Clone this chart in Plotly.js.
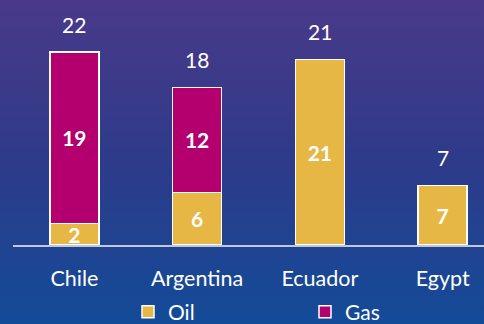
<!DOCTYPE html>
<html>
<head>
<meta charset="utf-8">
<script src="https://cdn.plot.ly/plotly-3.0.1.min.js"></script>
<style>
  html, body { margin: 0; padding: 0; }
  body { width: 484px; height: 324px; overflow: hidden;
         background: linear-gradient(to bottom, #4a3989 0%, #2d3b8a 50%, #134b98 100%); }
  #chart { width: 484px; height: 324px; }
</style>
</head>
<body>
<div id="chart"></div>
<script>
const categories = ["Chile", "Argentina", "Ecuador", "Egypt"];
const oilValues = [2.45, 5.98, 21.06, 6.74];
const gasValues = [19.48, 11.92, 0, 0];
const seriesNames = ["Oil", "Gas"];

const FONT = "Lato, 'Open Sans', sans-serif";
const totals = categories.map((c, i) => oilValues[i] + gasValues[i]);
const fmt = v => v > 0 ? String(Math.round(v)) : "";

const barCommon = {
  type: "bar",
  x: categories,
  width: 0.4,
  textposition: "inside",
  insidetextanchor: "middle",
  constraintext: "none",
  textangle: 0,
  textfont: { family: FONT, size: 21, color: "#ffffff", weight: "bold" },
  hoverinfo: "skip"
};

const traces = [
  Object.assign({}, barCommon, {
    name: seriesNames[0], y: oilValues, text: oilValues.map(fmt),
    marker: { color: "#E6B744", line: { color: "#ffffff", width: 1.5 } }
  }),
  Object.assign({}, barCommon, {
    name: seriesNames[1], y: gasValues, text: gasValues.map(fmt),
    marker: { color: "#B3006E", line: { color: "#ffffff", width: 1.5 } }
  })
];

const annotations = categories.map((c, i) => ({
  x: c, y: totals[i], xref: "x", yref: "y",
  text: fmt(totals[i]), showarrow: false,
  yanchor: "middle", yshift: 28,
  font: { family: FONT, size: 21, color: "#ffffff" }
}));

const layout = {
  width: 484, height: 324,
  margin: { l: 13, r: 0, t: 0, b: 79, pad: 0 },
  paper_bgcolor: "rgba(0,0,0,0)",
  plot_bgcolor: "rgba(0,0,0,0)",
  barmode: "stack",
  showlegend: true,
  font: { family: FONT, color: "#ffffff", size: 21 },
  xaxis: {
    range: [-0.5, 3.337],
    showline: true, linecolor: "#c3c7d6", linewidth: 1.5,
    showgrid: false, zeroline: false, ticks: "",
    ticklabelstandoff: 14,
    tickfont: { family: FONT, size: 21.5, color: "#ffffff" },
    fixedrange: true
  },
  yaxis: {
    range: [0, 27.84],
    visible: false, showgrid: false, zeroline: false, fixedrange: true
  },
  legend: {
    orientation: "h",
    xref: "container", yref: "container",
    x: 128 / 484, xanchor: "left",
    y: 1 - 312 / 324, yanchor: "middle",
    entrywidth: 132, entrywidthmode: "pixels",
    traceorder: "normal",
    bgcolor: "rgba(0,0,0,0)",
    font: { family: FONT, size: 21, color: "#ffffff" }
  },
  annotations: annotations
};

Plotly.newPlot("chart", traces, layout, { displayModeBar: false, staticPlot: true });
</script>
</body>
</html>
